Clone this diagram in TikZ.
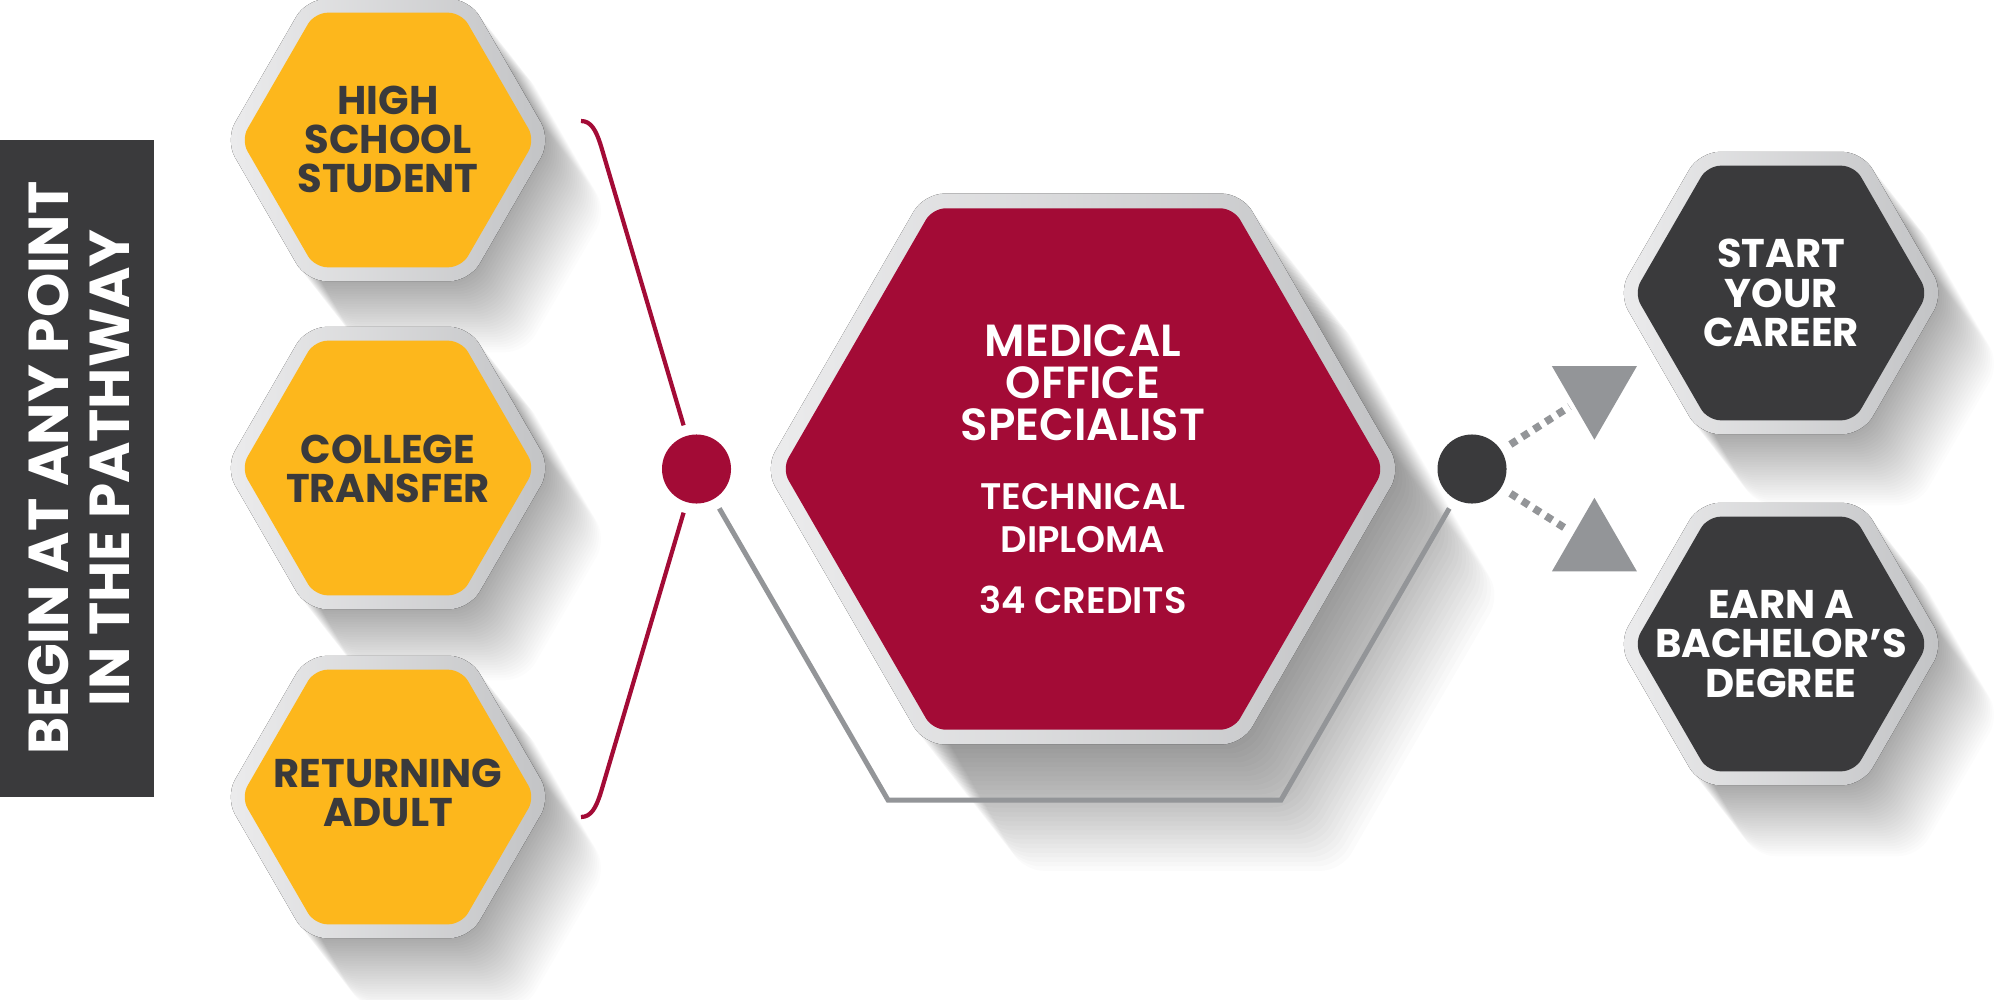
\documentclass[tikz,border=0pt]{standalone}
\usepackage{fontspec}
\setmainfont{Poppins}
\newfontfamily\popsemi{Poppins SemiBold}
\usetikzlibrary{shapes.geometric}
\definecolor{ochre}{HTML}{FDB71C}
\definecolor{wine}{HTML}{A30B36}
\definecolor{charc}{HTML}{3A3A3C}
\definecolor{ringL}{HTML}{ECECED}
\definecolor{ringR}{HTML}{C2C3C5}
\definecolor{lineg}{HTML}{939598}
\newcommand\hexagonpath[1]{(#1,0) -- (60:#1) -- (120:#1) -- (180:#1) -- (240:#1) -- (300:#1) -- cycle}
\newcommand\hexblock[5]{%
  \begin{scope}[shift={(#1,#2)}]
    \fill[left color=ringL, right color=ringR, rounded corners=0.2cm] \hexagonpath{#5};
    \fill[#3, rounded corners=0.13cm] \hexagonpath{#4};
  \end{scope}}
\newcommand\hexshadowp[5]{%
  \begin{scope}[shift={(#1,#2)}]
    \foreach \k in {1,...,28} {\fill[black, fill opacity=#5, rounded corners=0.2cm, shift={(0.62*\k*#4/28,0.79*\k*#4/28)}] \hexagonpath{#3};}
  \end{scope}}
\tikzset{
  ytext/.style={text=charc, font=\bfseries\fontsize{11.4}{11.1}\selectfont, align=center, inner sep=0},
  wtext/.style={text=white, font=\bfseries\fontsize{11.4}{11.2}\selectfont, align=center, inner sep=0},
  rbig/.style={text=white, font=\popsemi\fontsize{12.8}{11.95}\selectfont, align=center, inner sep=0},
  rsmall/.style={text=white, font=\popsemi\fontsize{10.5}{12.4}\selectfont, align=center, inner sep=0},
  boxtext/.style={text=white, font=\bfseries\fontsize{16}{17.6}\selectfont, align=center, inner sep=0},
  wineline/.style={draw=wine, line width=0.042cm},
  grayline/.style={draw=lineg, line width=0.05cm},
  dashline/.style={draw=lineg, line width=0.075cm, dash pattern=on 0.075cm off 0.065cm},
  dotnode/.style={circle, inner sep=0, minimum size=0.69cm, outer sep=0.11cm},
  trinode/.style={regular polygon, regular polygon sides=3, fill=lineg, inner sep=0, minimum size=0.98cm, outer sep=0.05cm},
}
\begin{document}
\begin{tikzpicture}[x=0.01cm,y=-0.01cm]
\fill[white] (0,0) rectangle (2000,1000);
\useasboundingbox (0,0) rectangle (2000,1000);
% shadows
\hexshadowp{388}{140}{163}{90}{0.011}
\hexshadowp{388}{468}{163}{90}{0.011}
\hexshadowp{388}{797}{163}{90}{0.011}
\hexshadowp{1083}{469}{318}{160}{0.015}
\hexshadowp{1781}{293}{163}{90}{0.011}
\hexshadowp{1781}{644}{163}{90}{0.011}
% side box
\fill[charc] (0,140) rectangle (154,797);
\node[boxtext, rotate=90] (begin) at (79,468) {BEGIN AT ANY POINT\\IN THE PATHWAY};
% dots and triangles
\node[dotnode, fill=wine] (rdot) at (696.5,469) {};
\node[dotnode, fill=charc] (ddot) at (1472,469) {};
\node[trinode, shape border rotate=180] (tri1) at (1594.4,390.7) {};
\node[trinode] (tri2) at (1594.4,546.8) {};
% connectors
\coordinate (bt) at (581,121);
\coordinate (bb) at (581,817);
\coordinate (g1) at (888,800);
\coordinate (g2) at (1281,800);
\draw[wineline] (bt) .. controls (591,121) and (596,130) .. (601,146) -- (rdot);
\draw[wineline] (bb) .. controls (591,817) and (596,808) .. (601,792) -- (rdot);
\draw[grayline] (rdot) -- (g1) -- (g2) -- (ddot);
\draw[dashline] (ddot) -- (tri1);
\draw[dashline] (ddot) -- (tri2);
% hexagons
\hexblock{388}{140}{ochre}{147}{163}
\hexblock{388}{468}{ochre}{147}{163}
\hexblock{388}{797}{ochre}{147}{163}
\hexblock{1083}{469}{wine}{301}{318}
\hexblock{1781}{293}{charc}{147}{163}
\hexblock{1781}{644}{charc}{147}{163}
% texts
\node[ytext] (hs) at (388,139) {HIGH\\SCHOOL\\STUDENT};
\node[ytext] (ct) at (388,469) {COLLEGE\\TRANSFER};
\node[ytext] (ra) at (388,793) {RETURNING\\ADULT};
\node[rbig] (mos) at (1083,382.6) {MEDICAL\\OFFICE\\SPECIALIST};
\node[rsmall] (td) at (1083,518) {TECHNICAL\\DIPLOMA};
\node[rsmall] (cr) at (1083,599.5) {34 CREDITS};
\node[wtext] (syc) at (1781,293) {START\\YOUR\\CAREER};
\node[wtext] (ebd) at (1781,644) {EARN A\\BACHELOR’S\\DEGREE};
\end{tikzpicture}
\end{document}
